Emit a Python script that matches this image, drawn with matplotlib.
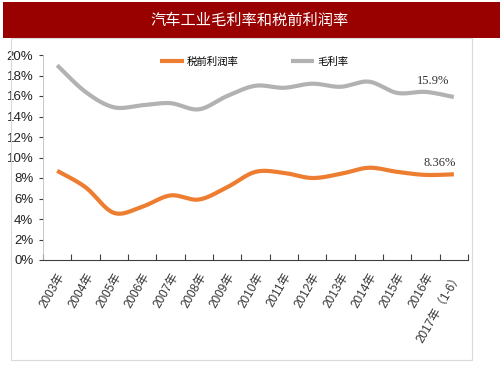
import numpy as np
import matplotlib
matplotlib.use('Agg')
import matplotlib.pyplot as plt
from matplotlib.patches import Rectangle

plt.rcParams['font.family'] = ['Liberation Sans Narrow', 'Liberation Sans', 'Noto Sans CJK SC']

title = '汽车工业毛利率和税前利润率'
years = ['2003年', '2004年', '2005年', '2006年', '2007年', '2008年', '2009年', '2010年',
         '2011年', '2012年', '2013年', '2014年', '2015年', '2016年', '2017年（1-6）']
gross = [19.0, 16.4, 14.9, 15.1, 15.3, 14.7, 16.0, 17.0, 16.8, 17.2, 16.9, 17.4, 16.3, 16.4, 15.9]
pretax = [8.7, 7.1, 4.6, 5.2, 6.3, 5.9, 7.1, 8.6, 8.5, 8.0, 8.4, 9.0, 8.6, 8.3, 8.36]
name_pretax = '税前利润率'
name_gross = '毛利率'


def smooth(y, n=24):
    # catmull-rom curve through the points, like excel's smoothed line
    p = np.asarray(y, dtype=float)
    x = np.arange(len(p), dtype=float)
    px = np.concatenate([[x[0]], x, [x[-1]]])
    py = np.concatenate([[p[0]], p, [p[-1]]])
    xs, ys = [], []
    t = np.linspace(0, 1, n, endpoint=False)
    for i in range(1, len(px) - 2):
        for arr, out in ((px, xs), (py, ys)):
            p0, p1, p2, p3 = arr[i - 1], arr[i], arr[i + 1], arr[i + 2]
            m1 = (p2 - p0) / 2
            m2 = (p3 - p1) / 2
            h00 = 2 * t**3 - 3 * t**2 + 1
            h10 = t**3 - 2 * t**2 + t
            h01 = -2 * t**3 + 3 * t**2
            h11 = t**3 - t**2
            out.extend(h00 * p1 + h10 * m1 + h01 * p2 + h11 * m2)
    xs.append(x[-1])
    ys.append(p[-1])
    return np.array(xs), np.array(ys)


fig = plt.figure(figsize=(5.03, 3.78), dpi=100)
W, H = 503, 378

# title banner and chart frame
fig.patches.append(Rectangle((3 / W, 1 - 38 / H), 497 / W, 36 / H, transform=fig.transFigure,
                             facecolor='#990000', edgecolor='none'))
fig.text(250 / W, 1 - 20 / H, title, color='white', fontsize=11, ha='center', va='center',
         family=['Noto Sans CJK SC'])
fig.patches.append(Rectangle((11 / W, 1 - 360 / H), 461 / W, 322 / H, transform=fig.transFigure,
                             facecolor='none', edgecolor='#d9d9d9', lw=0.8))

ax = fig.add_axes([43 / W, 1 - 260 / H, 425 / W, 205 / H])
n = len(years)
c_orange = '#ED7D31'
c_gray = '#B2B2B2'
sx, sy = smooth(gross)
ax.plot(sx, sy, color=c_gray, lw=3, solid_capstyle='butt', label=name_gross)
sx, sy = smooth(pretax)
ax.plot(sx, sy, color=c_orange, lw=3, solid_capstyle='butt', label=name_pretax)

ax.set_xlim(-0.5, n - 0.5)
ax.set_ylim(0, 20)
ax.set_yticks(range(0, 21, 2))
ax.set_yticklabels([f'{v}%' for v in range(0, 21, 2)], fontsize=9.5, color='#222222')
ax.set_xticks(np.arange(-0.5, n, 1))
ax.set_xticklabels([])
ax.set_xticks(range(n), minor=True)
ax.set_xticklabels(years, minor=True, rotation=60, ha='right', va='top', fontsize=8.5,
                   color='#333333', rotation_mode='anchor')
ax.tick_params(axis='x', which='major', direction='in', length=4, color='#404040')
ax.tick_params(axis='x', which='minor', length=0, pad=8)
ax.tick_params(axis='y', direction='out', length=3, color='#404040', pad=4)
for s in ['top', 'right']:
    ax.spines[s].set_visible(False)
ax.spines['left'].set_color('#bfbfbf')
ax.spines['left'].set_linewidth(0.6)
ax.spines['bottom'].set_color('#404040')

ax.annotate('15.9%', (n - 1, gross[-1]), xytext=(-15, 11.5), textcoords='offset points',
            ha='center', va='center', fontsize=9, family=['Liberation Serif'], color='#333333')
ax.annotate('8.36%', (n - 1, pretax[-1]), xytext=(-10, 8.4), textcoords='offset points',
            ha='center', va='center', fontsize=9, family=['Liberation Serif'], color='#333333')

h, l = ax.get_legend_handles_labels()
fig.legend(h[::-1], l[::-1], ncol=2, loc='center left', bbox_to_anchor=(160 / W, 1 - 62 / H),
           frameon=False, borderpad=0, borderaxespad=0, handlelength=2.3, columnspacing=5.0,
           handletextpad=0.25, prop={'family': ['Noto Sans CJK SC'], 'size': 7.5})

fig.savefig('out.png', dpi=100)
